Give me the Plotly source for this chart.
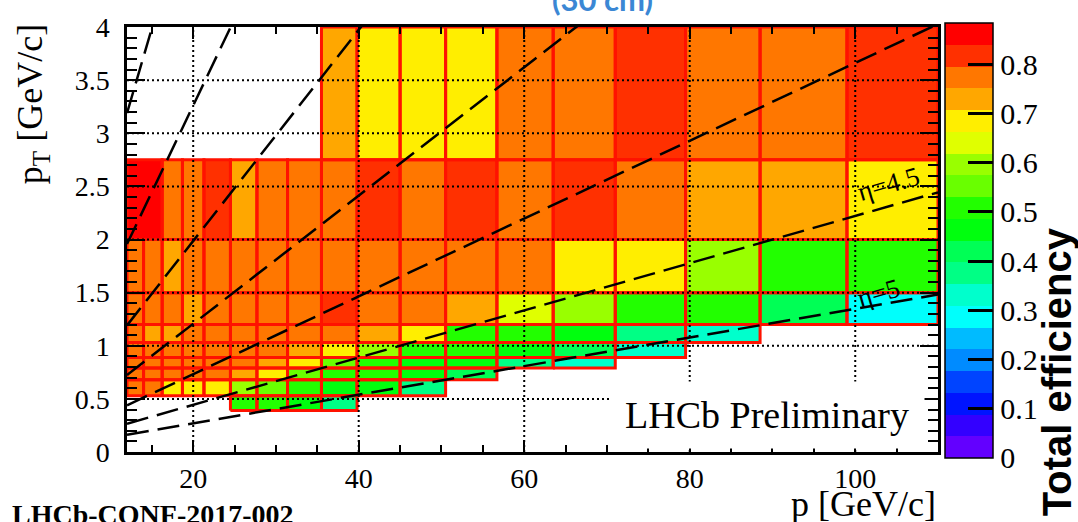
import colorsys
import math
import plotly.graph_objects as go

# ---------------- data ----------------
# momentum bin edges (GeV/c); the 2.0-2.75 row uses a merged first bin
p_edges = [12, 14, 16.25, 18.7, 21.3, 24.5, 27.7, 31.4, 35.5, 39.8, 45, 50.5,
           56.7, 63.5, 71, 79.5, 88.5, 99, 110]
p_edges_row_2p0 = [12, 16.25, 18.7, 21.3, 24.5, 27.7, 31.4, 35.5, 39.8, 45, 50.5,
                   56.7, 63.5, 71, 79.5, 88.5, 99, 110]
# transverse momentum bin edges (GeV/c)
pt_edges = [0.39, 0.53, 0.68, 0.79, 0.89, 1.03, 1.2, 1.5, 2.0, 2.75, 4.0]

N = None
# total efficiency per pT row (low -> high), one value per p bin
eff_pt_0p39 = [N, N, N, N, N, .509, .509, .465, .376, N, N, N, N, N, N, N, N, N]
eff_pt_0p53 = [.775, .775, .686, .686, .686, .597, .553, .509, .465, .465, .376, N, N, N, N, N, N, N]
eff_pt_0p68 = [.775, .775, .775, .775, .775, .73, .686, .553, .509, .509, .465, .42, N, N, N, N, N, N]
eff_pt_0p79 = [.775, .775, .775, .775, .775, .775, .73, .686, .553, .509, .465, .465, .376, .332, N, N, N, N]
eff_pt_0p89 = [.775, .775, .775, .775, .775, .775, .775, .73, .686, .597, .509, .509, .465, .42, .332, N, N, N]
eff_pt_1p03 = [.775, .73, .73, .775, .775, .775, .775, .775, .775, .73, .686, .509, .509, .465, .376, .332, N, N]
eff_pt_1p2 = [.775, .775, .775, .73, .775, .775, .775, .775, .82, .775, .775, .73, .642, .597, .509, .509, .42, .288]
eff_pt_1p5 = [.775, .775, .73, .775, .775, .775, .775, .775, .775, .775, .775, .775, .775, .686, .686, .597, .509, .509]
eff_pt_2p0 = [.86, .775, .775, .82, .73, .775, .775, .775, .82, .775, .82, .775, .82, .775, .73, .73, .686]
eff_pt_2p75 = [N, N, N, N, N, N, N, N, .73, .686, .686, .686, .775, .775, .82, .775, .775, .82]

eta_values = [2, 2.5, 3, 3.5, 4, 4.5, 5]
eta_labels = ["\u03b7=4.5", "\u03b7=5"]
x_ticks = [20, 40, 60, 80, 100]
y_ticks = [0, 0.5, 1, 1.5, 2, 2.5, 3, 3.5, 4]
y_ticktext = ["0", "0.5", "1", "1.5", "2", "2.5", "3", "3.5", "4"]
cbar_ticks = [0, 0.1, 0.2, 0.3, 0.4, 0.5, 0.6, 0.7, 0.8]
cbar_ticktext = ["0", "0.1", "0.2", "0.3", "0.4", "0.5", "0.6", "0.7", "0.8"]
z_max = 0.885
n_contours = 20

# ---------------- palette (ROOT "pretty" palette, 20 contours) ----------------
def root_color(j):
    idx = int((j + 0.99) * 50 / n_contours)
    hue = 280 - (idx + 1) * 5.6
    r, g, b = colorsys.hls_to_rgb(max(hue, 0) / 360.0, 0.5, 1.0)
    return "rgb(%d,%d,%d)" % (round(r * 255), round(g * 255), round(b * 255))

colorscale = []
for j in range(n_contours):
    c = root_color(j)
    colorscale.append([j / n_contours, c])
    colorscale.append([(j + 1) / n_contours, c])

rows_eff = [eff_pt_0p39, eff_pt_0p53, eff_pt_0p68, eff_pt_0p79, eff_pt_0p89,
            eff_pt_1p03, eff_pt_1p2, eff_pt_1p5, eff_pt_2p0, eff_pt_2p75]
rows_pedges = [p_edges] * 8 + [p_edges_row_2p0, p_edges]

fig = go.Figure()

# heatmap rows
for i, (vals, edges) in enumerate(zip(rows_eff, rows_pedges)):
    fig.add_trace(go.Heatmap(
        x=edges, y=[pt_edges[i], pt_edges[i + 1]], z=[vals],
        coloraxis="coloraxis", hoverinfo="skip", zsmooth=False))

# red bin outlines
bx, by = [], []
for i, (vals, edges) in enumerate(zip(rows_eff, rows_pedges)):
    y0, y1 = pt_edges[i], pt_edges[i + 1]
    for k, v in enumerate(vals):
        if v is None:
            continue
        x0, x1 = edges[k], edges[k + 1]
        bx += [x0, x1, x1, x0, x0, None]
        by += [y0, y0, y1, y1, y0, None]
fig.add_trace(go.Scatter(x=bx, y=by, mode="lines", hoverinfo="skip",
                         line=dict(color="#ff1200", width=3), showlegend=False))

# dotted grid above the bins
x_lo, x_hi = 12, 110
y_lo, y_hi = 0, 4
gx, gy = [], []
for xt in x_ticks:
    gx += [xt, xt, None]
    gy += [y_lo, y_hi, None]
for yt in y_ticks[1:-1]:
    gx += [x_lo, x_hi, None]
    gy += [yt, yt, None]
fig.add_trace(go.Scatter(x=gx, y=gy, mode="lines", hoverinfo="skip",
                         line=dict(color="black", width=2, dash="2px,3px"), showlegend=False))

# constant-eta dashed lines: pT = p / cosh(eta)
ex, ey = [], []
for eta in eta_values:
    for p in (x_lo, x_hi):
        ex.append(p)
        ey.append(p / math.cosh(eta))
    ex.append(None)
    ey.append(None)
fig.add_trace(go.Scatter(x=ex, y=ey, mode="lines", hoverinfo="skip",
                         line=dict(color="black", width=2.5, dash="22px,9px"), showlegend=False))

serif = "Liberation Serif"
fig.update_layout(
    width=1078, height=522, autosize=False,
    margin=dict(l=127, r=140, t=22, b=70),
    paper_bgcolor="white", plot_bgcolor="white",
    font=dict(family=serif, size=28, color="black"),
    showlegend=False,
    coloraxis=dict(
        colorscale=colorscale, cmin=0, cmax=z_max,
        colorbar=dict(
            thickness=48, thicknessmode="pixels",
            len=435, lenmode="pixels",
            x=1.0086, xanchor="left", xpad=0,
            y=0.4985, yanchor="middle", ypad=0,
            outlinewidth=1.5, outlinecolor="black",
            tickmode="array", tickvals=cbar_ticks, ticktext=cbar_ticktext,
            ticks="inside", ticklen=25, tickwidth=2.5, tickcolor="black",
            tickfont=dict(family=serif, size=30, color="black"),
        ),
    ),
    xaxis=dict(
        range=[x_lo, x_hi], tickmode="array", tickvals=x_ticks,
        ticks="inside", ticklen=12, tickwidth=2, tickcolor="black",
        showline=True, linewidth=2.5, linecolor="black", mirror="ticks",
        showgrid=False, zeroline=False,
        tickfont=dict(family=serif, size=28, color="black"),
        minor=dict(tickmode="linear", tick0=0, dtick=5, ticks="inside",
                   ticklen=7, tickwidth=2, tickcolor="black", showgrid=False),
    ),
    yaxis=dict(
        range=[y_lo, y_hi], tickmode="array", tickvals=y_ticks, ticktext=y_ticktext,
        ticks="inside", ticklen=18, tickwidth=2, tickcolor="black",
        showline=True, linewidth=2.5, linecolor="black", mirror="ticks",
        showgrid=False, zeroline=False, ticklabelstandoff=9,
        tickfont=dict(family=serif, size=28, color="black"),
        minor=dict(tickmode="linear", tick0=0, dtick=0.1, ticks="inside",
                   ticklen=10, tickwidth=2, tickcolor="black", showgrid=False),
    ),
)

annotations = [
    dict(text="<b>(30 cm)</b>", xref="paper", yref="paper", x=0.5857, y=1.016,
         xanchor="center", yanchor="bottom", showarrow=False,
         font=dict(family="Lato", size=31, color="#3b87d4")),
    dict(text="LHCb Preliminary", xref="paper", yref="paper", x=0.789, y=0.086,
         xanchor="center", yanchor="middle", showarrow=False, width=312, height=64,
         bgcolor="white", font=dict(family=serif, size=38, color="black")),
    dict(text=eta_labels[0], xref="x", yref="y", x=104, y=2.52, textangle=-16,
         showarrow=False, font=dict(family=serif, size=27, color="black")),
    dict(text=eta_labels[1], xref="x", yref="y", x=102.8, y=1.5, textangle=-16,
         showarrow=False, font=dict(family=serif, size=27, color="black")),
    dict(text="p [GeV/c]", xref="paper", yref="paper", x=1.0, y=-0.123,
         xanchor="right", yanchor="middle", showarrow=False,
         font=dict(family=serif, size=36, color="black")),
    dict(text="p<sub>T</sub> [GeV/c]", xref="paper", yref="paper", x=-0.117, y=0.8186,
         xanchor="center", yanchor="middle", textangle=-90, showarrow=False,
         font=dict(family=serif, size=36, color="black")),
    dict(text="<b>Total efficiency</b>", xref="paper", yref="paper", x=1.1467, y=0.19,
         xanchor="center", yanchor="middle", textangle=-90, showarrow=False,
         font=dict(family="Liberation Sans", size=40, color="black")),
    dict(text="<b>LHCb-CONF-2017-002</b>", xref="paper", yref="paper", x=-0.1443, y=-0.107,
         xanchor="left", yanchor="top", showarrow=False,
         font=dict(family=serif, size=28, color="black")),
]
fig.update_layout(annotations=annotations)

fig.write_html("out.html")
